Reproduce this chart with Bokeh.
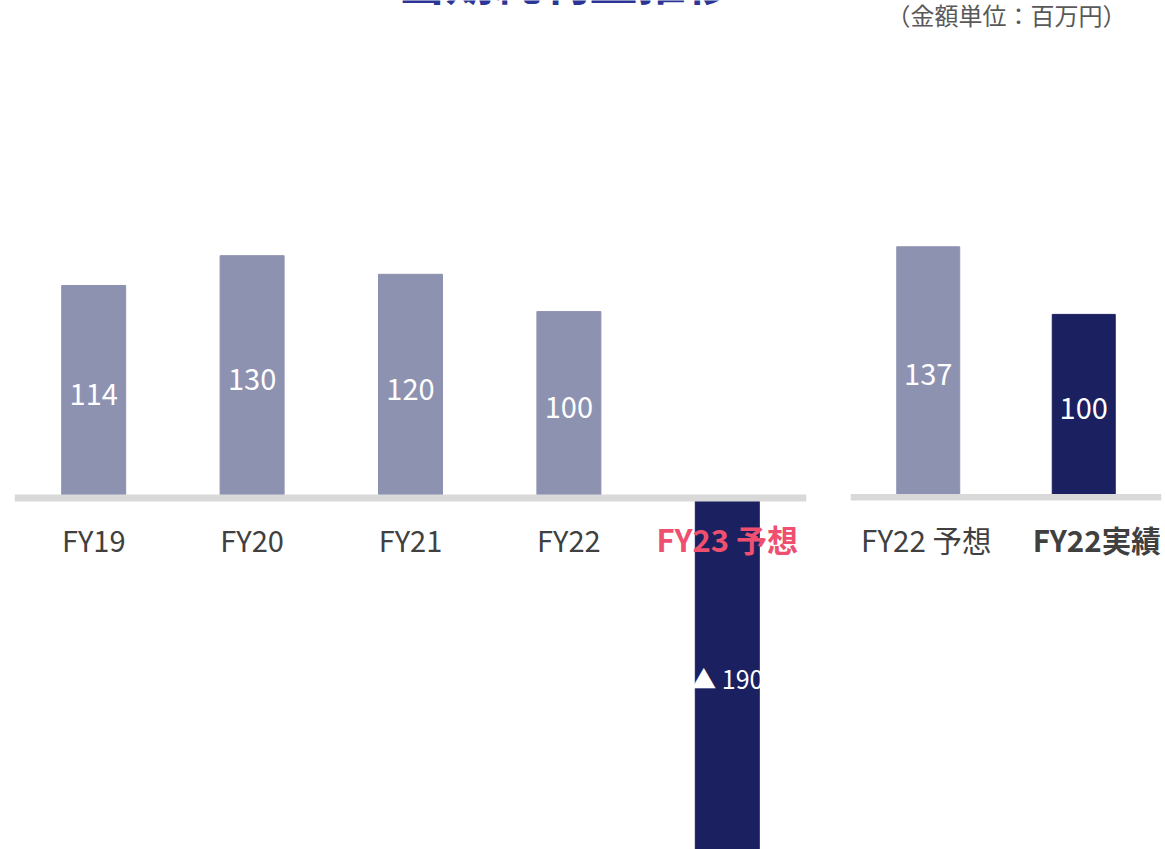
from bokeh.plotting import figure
from bokeh.models import ColumnDataSource, FactorRange, Range1d, Span, Label
from bokeh.layouts import row
from bokeh.embed import file_html
from bokeh.resources import INLINE
from bokeh.core.properties import value

# ---- data ----
chart_title = "当期純利益推移"
periods = ["FY19", "FY20", "FY21", "FY22", "FY23 予想"]
net_income = [114, 130, 120, 100, -190]
compare_periods = ["FY22 予想", "FY22実績"]
compare_values = [137, 100]
unit_note = "（金額単位：百万円）"

# ---- style ----
LIGHT = "#8e92b1"
DARK = "#1b2060"
PINK = "#ef506f"
GREY = "#404040"
BAND = "#d9d9d9"
TITLE = "#2b3595"
FONT = "Noto Sans CJK JP"
H = 849


def base_fig(factors, width, y0, y1, bl, br):
    p = figure(width=width, height=H, x_range=FactorRange(*factors, range_padding=0),
               y_range=Range1d(y0, y1), output_backend="svg", toolbar_location=None,
               x_axis_location=None, y_axis_location=None,
               min_border_left=bl, min_border_right=br, min_border_top=0, min_border_bottom=0)
    p.grid.visible = False
    p.outline_line_color = None
    p.background_fill_color = "white"
    p.border_fill_color = "white"
    return p


# ---- left panel ----
left = base_fig(periods, 830, -188.6, 266.9, 14, 24)
lcolors = [DARK if v < 0 else LIGHT for v in net_income]
lsrc = ColumnDataSource(dict(
    x=periods, top=net_income, mid=[v / 2 for v in net_income], color=lcolors,
    vlabel=[("▲ " + str(-v)) if v < 0 else str(v) for v in net_income],
    vsize=["25px" if v < 0 else "29px" for v in net_income],
    zero=[0] * len(periods),
    ccolor=[PINK if "予想" in c else GREY for c in periods],
    cstyle=["bold" if "予想" in c else "normal" for c in periods],
    csize=["31px" if "予想" in c else "29px" for c in periods],
))
left.vbar(x="x", top="top", bottom=0, width=0.404, color="color", source=lsrc)
left.text(x="x", y="mid", text="vlabel", text_color="white", text_font=value(FONT),
          text_font_size="vsize", text_align="center", text_baseline="middle",
          y_offset=3, source=lsrc)
left.text(x="x", y="zero", text="x", text_color="ccolor", text_font=value(FONT),
          text_font_size="csize", text_font_style="cstyle", text_align="center",
          text_baseline="middle", y_offset=41, source=lsrc)
left.add_layout(Span(location=0, dimension="width", line_color=BAND, line_width=7))
left.add_layout(Label(x=551, y=H + 22, x_units="screen", y_units="screen", text=chart_title,
                      text_font=FONT, text_font_size="48px", text_font_style="bold",
                      text_color=TITLE, text_align="center", text_baseline="alphabetic"))

# ---- right panel ----
right = base_fig(compare_periods, 335, -192.7, 271.7, 20, 4)
rsrc = ColumnDataSource(dict(
    x=compare_periods, top=compare_values, mid=[v / 2 for v in compare_values],
    color=[LIGHT if "予想" in c else DARK for c in compare_periods],
    vlabel=[str(v) for v in compare_values],
    zero=[0] * len(compare_periods),
    cstyle=["normal" if "予想" in c else "bold" for c in compare_periods],
    xoff=[-2 if "予想" in c else 13 for c in compare_periods],
))
right.vbar(x="x", top="top", bottom=0, width=0.405, color="color", source=rsrc)
right.text(x="x", y="mid", text="vlabel", text_color="white", text_font=value(FONT),
           text_font_size="29px", text_align="center", text_baseline="middle",
           y_offset=3, source=rsrc)
right.text(x="x", y="zero", text="x", text_color=GREY, text_font=value(FONT),
           text_font_size="29.5px", text_font_style="cstyle", text_align="center",
           text_baseline="middle", x_offset="xoff", y_offset=42, source=rsrc)
right.add_layout(Span(location=0, dimension="width", line_color=BAND, line_width=6.5))
right.add_layout(Label(x=276, y=H - 14, x_units="screen", y_units="screen", text=unit_note,
                       text_font=FONT, text_font_size="24px", text_color="#595959",
                       text_align="right", text_baseline="middle"))

layout = row(left, right, spacing=0)
open("out.html", "w").write(file_html(layout, INLINE))
